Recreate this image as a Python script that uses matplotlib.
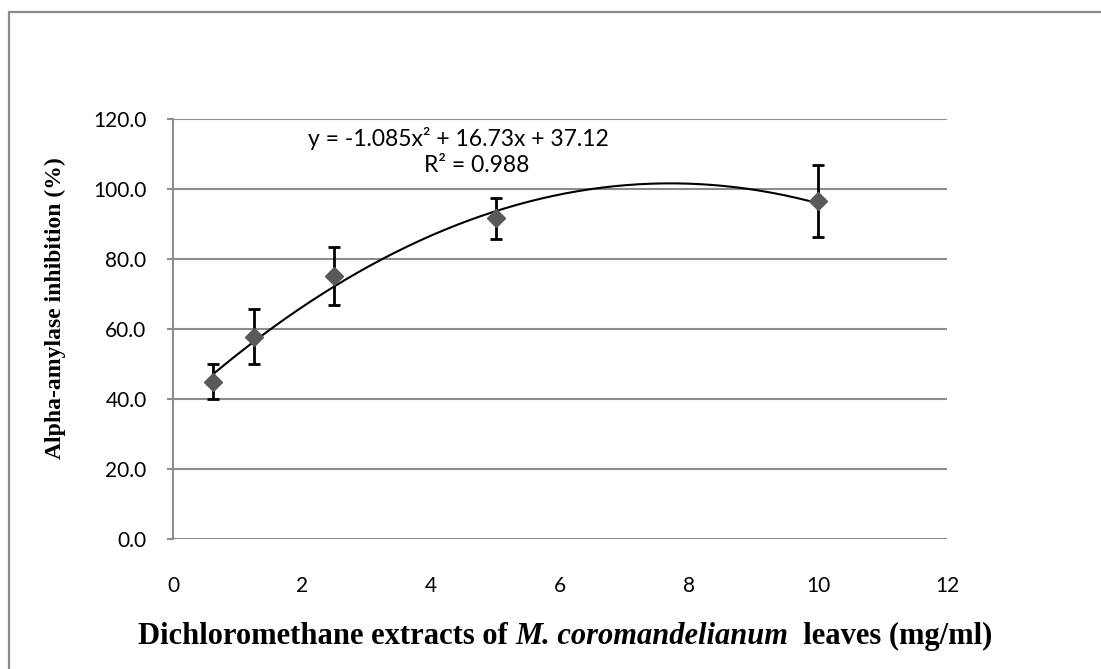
import numpy as np
import matplotlib
matplotlib.use("Agg")
import matplotlib.pyplot as plt
from matplotlib.patches import Rectangle
from matplotlib.transforms import offset_copy

# concentration (mg/ml) and inhibition (%) with SD
conc = [0.625, 1.25, 2.5, 5, 10]
inhib = [44.9, 57.8, 75.2, 91.6, 96.6]
sd = [5.0, 7.8, 8.3, 5.9, 10.4]

# 2nd order polynomial trend line
coef = [-1.085, 16.73, 37.12]
r2 = 0.988

xticks = [0, 2, 4, 6, 8, 10, 12]
yticks = [0, 20, 40, 60, 80, 100, 120]

W, H = 1101, 669
fig = plt.figure(figsize=(W / 100, H / 100), dpi=100)
fig.patch.set_facecolor("white")

# chart frame (runs off the right and bottom edge)
fig.patches.append(Rectangle((8.5 / W, -0.5), 1.5, 1.5 - 11.5 / H, transform=fig.transFigure,
                             fill=False, edgecolor="#8c8c8c", linewidth=1.6))

ax = fig.add_axes([173 / W, 1 - 539 / H, (947 - 173) / W, (539 - 119) / H])
ax.set_xlim(0, 12)
ax.set_ylim(0, 120)
ax.set_xticks(xticks)
ax.set_yticks(yticks)
ax.set_xticklabels([str(t) for t in xticks])
ax.set_yticklabels([f"{t:.1f}" for t in yticks])

for s in ["top", "right", "bottom"]:
    ax.spines[s].set_visible(False)
ax.spines["left"].set_color("#8c8c8c")
ax.spines["left"].set_linewidth(1.5)
ax.yaxis.grid(True, color="#8c8c8c", linewidth=1.5)
ax.set_axisbelow(True)
ax.tick_params(axis="y", length=4, width=1.5, color="#8c8c8c", pad=15)
ax.tick_params(axis="x", length=0, pad=27)
for lab in ax.get_xticklabels() + ax.get_yticklabels():
    lab.set_fontfamily("Lato")
    lab.set_fontsize(15)

# trend line over the tested range
xs = np.linspace(min(conc), max(conc), 200)
ax.plot(xs, np.polyval(coef, xs), color="black", linewidth=1.5, zorder=3)

ax.errorbar(conc, inhib, yerr=sd, fmt="none", ecolor="black", elinewidth=2,
            capsize=4.5, capthick=2, zorder=2)
ax.plot(conc, inhib, linestyle="none", marker="D", markersize=9.5,
        color="#595959", zorder=4)

fig.text(458 / W, 1 - 138 / H, "y = -1.085x² + 16.73x + 37.12", ha="center", va="center",
         fontfamily="Lato", fontsize=16.5)
fig.text(477 / W, 1 - 165 / H, f"R² = {r2}", ha="center", va="center",
         fontfamily="Lato", fontsize=16.5)

fig.text(55 / W, 1 - 308 / H, "Alpha-amylase inhibition (%)", rotation=90,
         ha="center", va="center", fontfamily="Liberation Serif", fontweight="bold", fontsize=17)

# x label in pieces so the species name can be italic
pieces = [("Dichloromethane extracts of ", "normal"),
          ("M. coromandelianum", "italic"),
          ("  leaves (mg/ml)", "normal")]
renderer = fig.canvas.get_renderer()
trans = fig.transFigure
x0, y0 = 138 / W, 1 - 636 / H
for txt, style in pieces:
    t = fig.text(x0, y0, txt, transform=trans, ha="left", va="center",
                 fontfamily="Liberation Serif", fontweight="bold", fontstyle=style, fontsize=22)
    ext = t.get_window_extent(renderer)
    trans = offset_copy(trans, fig=fig, x=ext.width, y=0, units="dots")

fig.savefig("out.png", dpi=100, facecolor="white")
